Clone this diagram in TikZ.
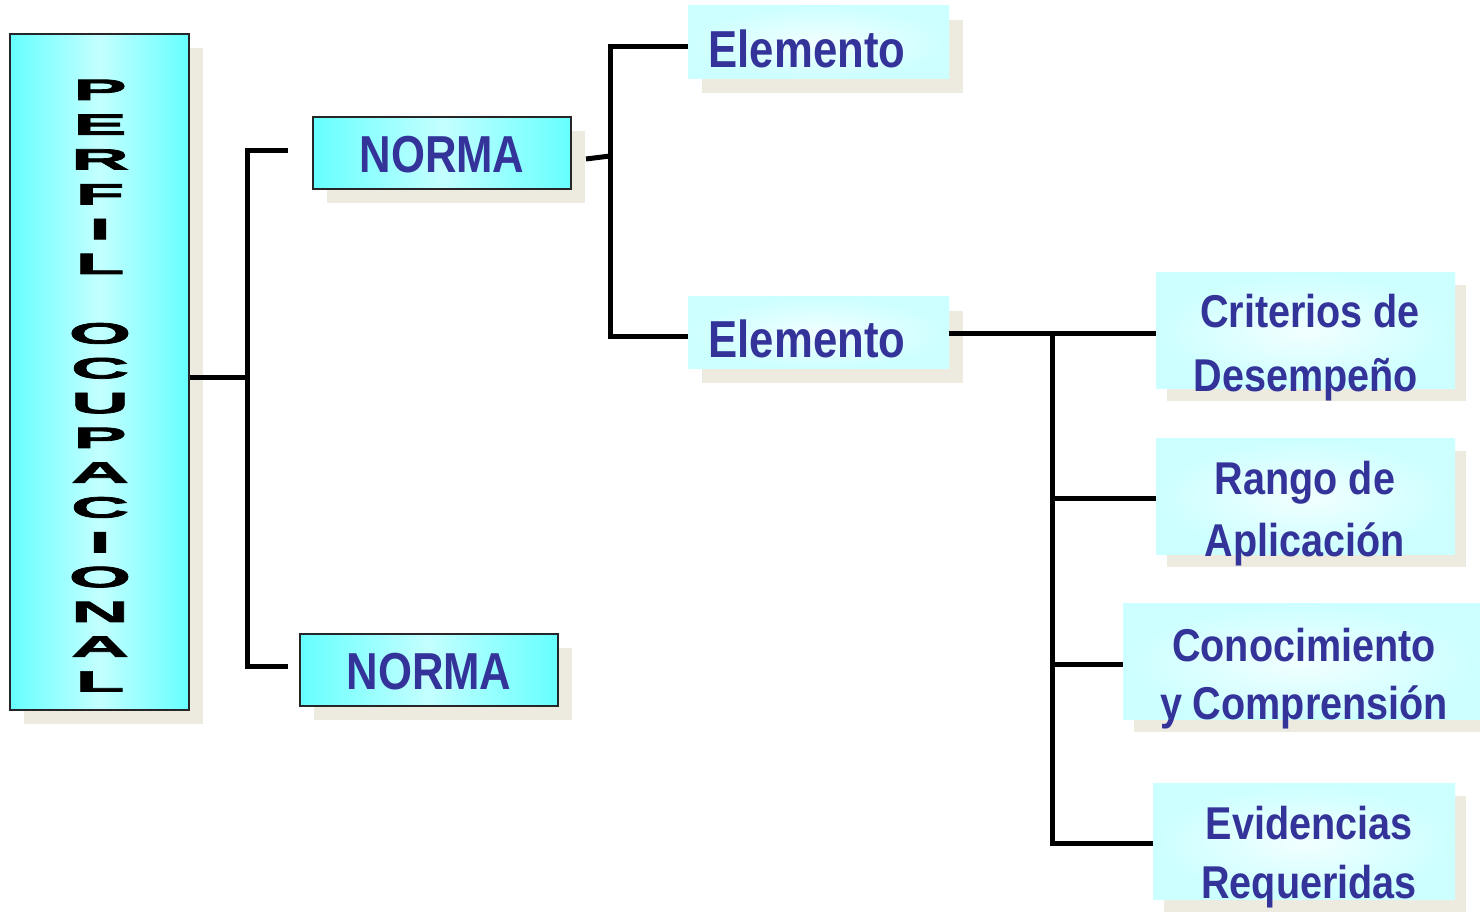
\documentclass[tikz,border=0pt]{standalone}
\usepackage{fontspec}
\setmainfont{Liberation Sans}
\newfontfamily\widefont{Liberation Sans}[FakeStretch=2.75, BoldFeatures={FakeBold=2.5}]
\newfontfamily\condA{Liberation Sans}[FakeStretch=0.84]
\newfontfamily\condB{Liberation Sans}[FakeStretch=0.86]
\usetikzlibrary{fit,shadows}
\definecolor{txtblue}{HTML}{333399}
\definecolor{cyanA}{HTML}{66FFFF}
\definecolor{cyanB}{HTML}{C4FFFF}
\definecolor{paleA}{HTML}{CCFFFF}
\definecolor{paleB}{HTML}{F2FFFF}
\definecolor{shadowc}{HTML}{EDEAE0}
\begin{document}
\begin{tikzpicture}[x=0.5pt,y=-0.5pt,
  conn/.style={line width=2.5pt, line join=miter, draw=black},
  cyanbox/.style={inner sep=0pt, draw=black!85, line width=0.9pt,
    left color=cyanA, right color=cyanA, middle color=cyanB},
  palebox/.style={inner sep=0pt, draw=none, inner color=paleB, outer color=paleA},
  shbig/.style={drop shadow={shadow xshift=7pt, shadow yshift=-7pt, fill=shadowc, opacity=1}},
  shsmall/.style={drop shadow={shadow xshift=5.5pt, shadow yshift=-6pt, fill=shadowc, opacity=1}},
  lblA/.style={anchor=base, inner sep=0pt, text=txtblue, font=\condA\bfseries\fontsize{26}{30}\selectfont},
  lblB/.style={anchor=base, inner sep=0pt, text=txtblue, font=\condB\bfseries\fontsize{23}{28}\selectfont},
  letter/.style={anchor=base, inner sep=0pt, font=\widefont\bfseries\fontsize{14.7}{17}\selectfont}
]
\fill[white] (0,0) rectangle (1480,914);
\useasboundingbox (0,0) rectangle (1480,914);

% boxes
\node[cyanbox, shbig, fit={(10,34) (189,710)}] (perfil) {};
\node[cyanbox, shbig, fit={(313,117) (571,189)}] (norma1) {};
\node[cyanbox, shbig, fit={(300,634) (558,706)}] (norma2) {};
\node[palebox, shbig, fit={(688,6) (949,79)}] (elem1) {};
\node[palebox, shbig, fit={(688,297) (949,369)}] (elem2) {};
\node[palebox, shsmall, fit={(1156,273) (1455,389)}] (crit) {};
\node[palebox, shsmall, fit={(1156,439) (1455,555)}] (rango) {};
\node[palebox, shsmall, fit={(1123,604) (1480,720)}] (conoc) {};
\node[palebox, shsmall, fit={(1153,784) (1455,900)}] (evid) {};

% vertical title letters
\foreach \ch/\k in {P/0,E/1,R/2,F/3,I/4,L/5,O/7,C/8,U/9,P/10,A/11,C/12,I/13,O/14,N/15,A/16,L/17}
  \node[letter] (let\k) at (100,{100+34.8*\k}) {\ch};

% labels
\node[lblA] (tnorma1) at (442,173) {NORMA};
\node[lblA] (tnorma2) at (429,690) {NORMA};
\node[lblA] (telem1) at (807,68) {Elemento};
\node[lblA] (telem2) at (807,358) {Elemento};
\node[lblB] (tcrit1) at (1310,328) {Criterios de};
\node[lblB] (tcrit2) at (1306,392) {Desempeño};
\node[lblB] (trango1) at (1305,495) {Rango de};
\node[lblB] (trango2) at (1305,557) {Aplicación};
\node[lblB] (tconoc1) at (1304,662) {Conocimiento};
\node[lblB] (tconoc2) at (1304,720) {y Comprensión};
\node[lblB] (tevid1) at (1309,840) {Evidencias};
\node[lblB] (tevid2) at (1309,899) {Requeridas};

% connectors level 1
\coordinate (jA) at (247,378);
\coordinate (sA1) at (288,151);
\coordinate (sA2) at (288,667);
\draw[conn] (perfil.east |- jA) -- (jA);
\draw[conn] (sA1) -- (sA1 -| jA) -- (sA2 -| jA) -- (sA2);

% connectors level 2
\coordinate (n1out) at (586,159);
\coordinate (jB) at (610,156);
\coordinate (cB1) at (610,47);
\coordinate (cB2) at (610,337);
\draw[conn] (n1out) -- (jB);
\draw[conn] (elem1.west |- cB1) -- (cB1) -- (cB2) -- (elem2.west |- cB2);

% connectors level 3
\coordinate (jC) at (1052,334);
\coordinate (cC2) at (1052,499);
\coordinate (cC3) at (1052,665);
\coordinate (cC4) at (1052,844);
\draw[conn] (elem2.east |- jC) -- (crit.west |- jC);
\draw[conn] (jC) -- (cC4) -- (evid.west |- cC4);
\draw[conn] (cC2) -- (rango.west |- cC2);
\draw[conn] (cC3) -- (conoc.west |- cC3);
\end{tikzpicture}
\end{document}
